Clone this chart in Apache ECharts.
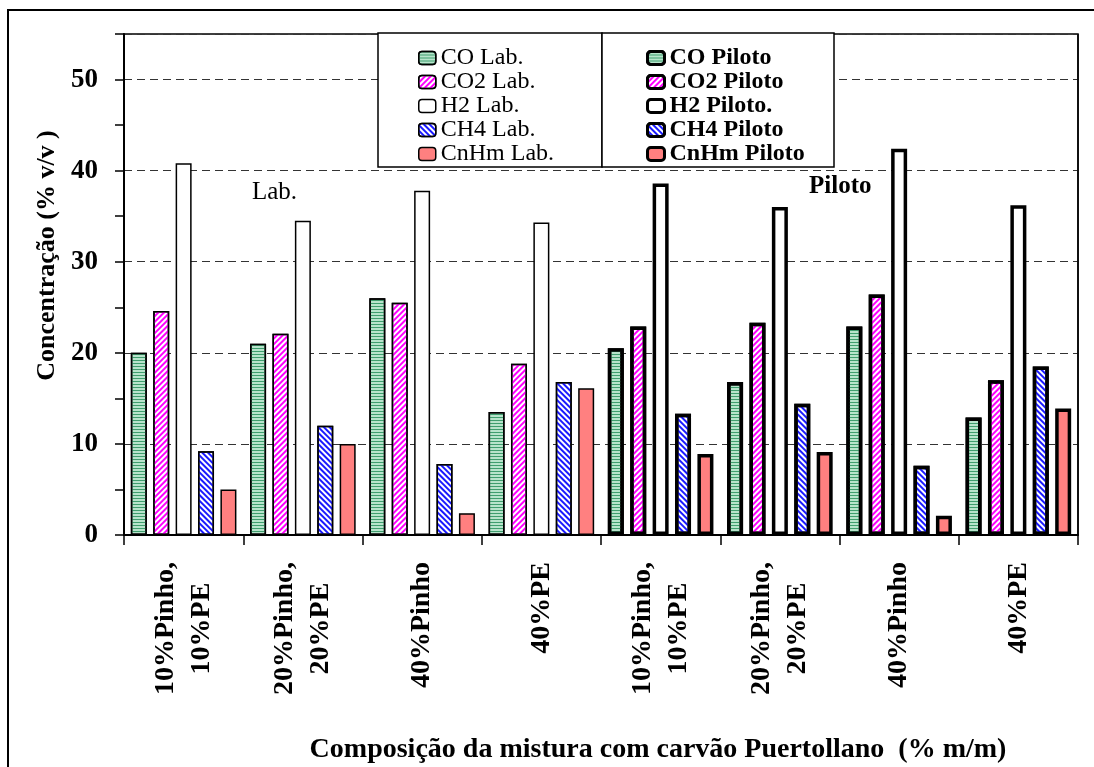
<!DOCTYPE html>
<html>
<head>
<meta charset="utf-8">
<script src="https://cdn.jsdelivr.net/npm/echarts@6/dist/echarts.min.js"></script>
<style>html,body{margin:0;padding:0;background:#fff}#c{width:1094px;height:767px}</style>
</head>
<body>
<div id="c"></div>
<script>
// ---- data ----
var categories = ['10%Pinho,\n10%PE', '20%Pinho,\n20%PE', '40%Pinho', '40%PE',
                  '10%Pinho,\n10%PE', '20%Pinho,\n20%PE', '40%Pinho', '40%PE'];
var gases = ['CO', 'CO2', 'H2', 'CH4', 'CnHm'];
var labNames = ['CO Lab.', 'CO2 Lab.', 'H2 Lab.', 'CH4 Lab.', 'CnHm Lab.'];
var pilotoNames = ['CO Piloto', 'CO2 Piloto', 'H2 Piloto.', 'CH4 Piloto', 'CnHm Piloto'];
var CO_lab   = [20.0, 21.0, 26.0, 13.5];
var CO2_lab  = [24.6, 22.1, 25.5, 18.8];
var H2_lab   = [40.8, 34.5, 37.8, 34.3];
var CH4_lab  = [9.2, 12.0, 7.8, 16.8];
var CnHm_lab = [5.0, 10.0, 2.4, 16.1];
var CO_pil   = [20.5, 16.8, 22.9, 12.9];
var CO2_pil  = [22.9, 23.3, 26.4, 17.0];
var H2_pil   = [38.6, 36.0, 42.4, 36.2];
var CH4_pil  = [13.3, 14.4, 7.6, 18.5];
var CnHm_pil = [8.9, 9.1, 2.1, 13.9];
var yTicks = [0, 10, 20, 30, 40, 50];

var labVals = [CO_lab, CO2_lab, H2_lab, CH4_lab, CnHm_lab];
var pilVals = [CO_pil, CO2_pil, H2_pil, CH4_pil, CnHm_pil];
var empty = ['-', '-', '-', '-'];

var FONT = '"Liberation Serif", "Times New Roman", serif';
var styles = [
  { color: '#b7e4cb', decal: { symbol: 'rect', symbolSize: 1, dashArrayX: [1, 0], dashArrayY: [1, 2], rotation: 0, color: '#3f9e6e' } },
  { color: '#ffffff', decal: { symbol: 'rect', symbolSize: 1, dashArrayX: [1, 0], dashArrayY: [1.6, 1.4], rotation: -Math.PI / 4, color: '#ff00ff' } },
  { color: '#ffffff', decal: null },
  { color: '#ffffff', decal: { symbol: 'rect', symbolSize: 1, dashArrayX: [1, 0], dashArrayY: [1.6, 1.4], rotation: Math.PI / 4, color: '#1a1aff' } },
  { color: '#ff8080', decal: null }
];

var series = [];
gases.forEach(function (g, i) {
  series.push({
    name: labNames[i], type: 'bar', stack: g, barWidth: 16, barGap: '40%',
    data: labVals[i].concat(empty),
    itemStyle: { color: styles[i].color, borderColor: '#000', borderWidth: 1.5, decal: styles[i].decal || undefined },
    emphasis: { disabled: true }
  });
});
gases.forEach(function (g, i) {
  series.push({
    name: pilotoNames[i], type: 'bar', stack: g, barWidth: 16, barGap: '40%',
    data: empty.concat(pilVals[i]),
    itemStyle: { color: styles[i].color, borderColor: '#000', borderWidth: 3.5, decal: styles[i].decal || undefined },
    emphasis: { disabled: true }
  });
});

var chart = echarts.init(document.getElementById('c'), null, { renderer: 'canvas' });
chart.setOption({
  animation: false,
  aria: { enabled: false },
  textStyle: { fontFamily: FONT },
  grid: { left: 124, right: 16, top: 34, bottom: 232, show: true, borderColor: '#000', borderWidth: 1.5, containLabel: false, outerBoundsMode: 'none' },
  legend: [
    {
      data: labNames, orient: 'vertical', left: 413, top: 41, itemWidth: 17, itemHeight: 13, itemGap: 0,
      selectedMode: false, z: 10,
      itemStyle: { borderColor: '#000', borderWidth: 1.5 },
      textStyle: { fontFamily: FONT, fontSize: 24, color: '#000', lineHeight: 23 }
    },
    {
      data: pilotoNames, orient: 'vertical', left: 641, top: 41, itemWidth: 17, itemHeight: 13, itemGap: 0,
      selectedMode: false, z: 10,
      itemStyle: { borderColor: '#000', borderWidth: 3 },
      textStyle: { fontFamily: FONT, fontSize: 24, fontWeight: 'bold', color: '#000', lineHeight: 23 }
    }
  ],
  xAxis: {
    type: 'category', data: categories, boundaryGap: true,
    axisLine: { lineStyle: { color: '#000', width: 2 } },
    axisTick: { show: true, length: 10, lineStyle: { color: '#000', width: 1.5 } },
    splitLine: { show: true, interval: function (i) { return i === 4; }, lineStyle: { color: '#000', width: 1.5, type: 'solid' } },
    axisLabel: {
      rotate: 90, margin: 27, interval: 0, color: '#000',
      formatter: function (v) { return v.split('\n').map(function (s) { return '{a|' + s + '}'; }).join('\n'); },
      rich: { a: { align: 'center', fontFamily: FONT, fontSize: 28, fontWeight: 'bold', color: '#000', lineHeight: 36 } }
    },
    name: 'Composição da mistura com carvão Puertollano  (% m/m)',
    nameLocation: 'middle', nameGap: 201,
    nameTextStyle: { fontFamily: FONT, fontSize: 28, fontWeight: 'bold', color: '#000', padding: [0, 0, 0, 114] }
  },
  yAxis: [
    {
      type: 'value', min: 0, max: 55, interval: 5,
      axisLine: { show: true, lineStyle: { color: '#000', width: 2 } },
      axisTick: { show: true, length: 9, lineStyle: { color: '#000', width: 1.5 } },
      splitLine: { show: false },
      axisLabel: {
        margin: 26, color: '#000', fontFamily: FONT, fontSize: 27, fontWeight: 'bold',
        formatter: function (v) { return yTicks.indexOf(v) >= 0 ? String(v) : ''; }
      },
      name: 'Concentração (% v/v )', nameLocation: 'middle', nameGap: 64, nameRotate: 90,
      nameTextStyle: { fontFamily: FONT, fontSize: 26, fontWeight: 'bold', color: '#000', padding: [0, 0, 0, 58] }
    },
    {
      type: 'value', min: 0, max: 55, interval: 10, show: true, position: 'left',
      axisLine: { show: false }, axisTick: { show: false }, axisLabel: { show: false },
      splitLine: { show: true, lineStyle: { color: '#333', width: 1, type: [8, 5] } }
    }
  ],
  graphic: [
    { type: 'rect', z: 0, silent: true, shape: { x: 8, y: 10, width: 1200, height: 900 }, style: { fill: 'none', stroke: '#000', lineWidth: 2 } },
    { type: 'rect', z: 5, silent: true, shape: { x: 378, y: 33, width: 224, height: 134 }, style: { fill: '#fff', stroke: '#000', lineWidth: 1.5 } },
    { type: 'rect', z: 5, silent: true, shape: { x: 602, y: 33, width: 232, height: 134 }, style: { fill: '#fff', stroke: '#000', lineWidth: 1.5 } },
    { type: 'text', z: 6, left: 252, top: 180, style: { text: 'Lab.', fontFamily: FONT, fontSize: 25, fill: '#000' } },
    { type: 'text', z: 6, left: 809, top: 174, style: { text: 'Piloto', fontFamily: FONT, fontSize: 25, fontWeight: 'bold', fill: '#000' } }
  ],
  series: series
});
</script>
</body>
</html>
